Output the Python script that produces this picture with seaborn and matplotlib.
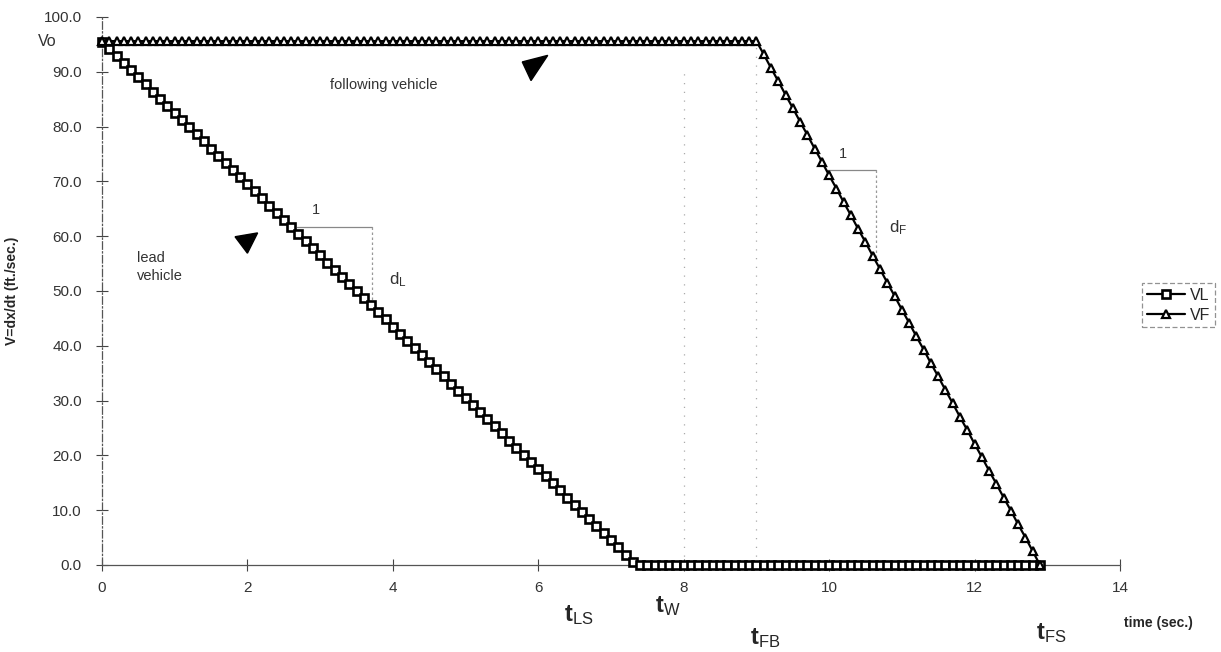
import matplotlib
matplotlib.use("Agg")
import matplotlib.pyplot as plt
from matplotlib.patches import Polygon
import seaborn as sns
import pandas as pd

# ---- data ----
time_s = [
    0.0, 0.1, 0.2, 0.3, 0.4, 0.5, 0.6, 0.7, 0.8, 0.9,
    1.0, 1.1, 1.2, 1.3, 1.4, 1.5, 1.6, 1.7, 1.8, 1.9,
    2.0, 2.1, 2.2, 2.3, 2.4, 2.5, 2.6, 2.7, 2.8, 2.9,
    3.0, 3.1, 3.2, 3.3, 3.4, 3.5, 3.6, 3.7, 3.8, 3.9,
    4.0, 4.1, 4.2, 4.3, 4.4, 4.5, 4.6, 4.7, 4.8, 4.9,
    5.0, 5.1, 5.2, 5.3, 5.4, 5.5, 5.6, 5.7, 5.8, 5.9,
    6.0, 6.1, 6.2, 6.3, 6.4, 6.5, 6.6, 6.7, 6.8, 6.9,
    7.0, 7.1, 7.2, 7.3, 7.4, 7.5, 7.6, 7.7, 7.8, 7.9,
    8.0, 8.1, 8.2, 8.3, 8.4, 8.5, 8.6, 8.7, 8.8, 8.9,
    9.0, 9.1, 9.2, 9.3, 9.4, 9.5, 9.6, 9.7, 9.8, 9.9,
    10.0, 10.1, 10.2, 10.3, 10.4, 10.5, 10.6, 10.7, 10.8, 10.9,
    11.0, 11.1, 11.2, 11.3, 11.4, 11.5, 11.6, 11.7, 11.8, 11.9,
    12.0, 12.1, 12.2, 12.3, 12.4, 12.5, 12.6, 12.7, 12.8, 12.9,
]

vl_speed = [
    95.5, 94.2, 92.9, 91.6, 90.3, 89.0, 87.7, 86.4, 85.1, 83.8,
    82.5, 81.2, 79.9, 78.6, 77.3, 76.0, 74.7, 73.4, 72.1, 70.8,
    69.5, 68.2, 66.9, 65.6, 64.3, 63.0, 61.7, 60.4, 59.1, 57.8,
    56.5, 55.2, 53.9, 52.6, 51.3, 50.0, 48.7, 47.4, 46.1, 44.8,
    43.5, 42.2, 40.9, 39.6, 38.3, 37.0, 35.7, 34.4, 33.1, 31.8,
    30.5, 29.2, 27.9, 26.6, 25.3, 24.0, 22.7, 21.4, 20.1, 18.8,
    17.5, 16.2, 14.9, 13.6, 12.3, 11.0, 9.7, 8.4, 7.1, 5.8,
    4.5, 3.2, 1.9, 0.6, 0.0, 0.0, 0.0, 0.0, 0.0, 0.0,
    0.0, 0.0, 0.0, 0.0, 0.0, 0.0, 0.0, 0.0, 0.0, 0.0,
    0.0, 0.0, 0.0, 0.0, 0.0, 0.0, 0.0, 0.0, 0.0, 0.0,
    0.0, 0.0, 0.0, 0.0, 0.0, 0.0, 0.0, 0.0, 0.0, 0.0,
    0.0, 0.0, 0.0, 0.0, 0.0, 0.0, 0.0, 0.0, 0.0, 0.0,
    0.0, 0.0, 0.0, 0.0, 0.0, 0.0, 0.0, 0.0, 0.0, 0.0,
]

vf_speed = [
    95.6, 95.6, 95.6, 95.6, 95.6, 95.6, 95.6, 95.6, 95.6, 95.6,
    95.6, 95.6, 95.6, 95.6, 95.6, 95.6, 95.6, 95.6, 95.6, 95.6,
    95.6, 95.6, 95.6, 95.6, 95.6, 95.6, 95.6, 95.6, 95.6, 95.6,
    95.6, 95.6, 95.6, 95.6, 95.6, 95.6, 95.6, 95.6, 95.6, 95.6,
    95.6, 95.6, 95.6, 95.6, 95.6, 95.6, 95.6, 95.6, 95.6, 95.6,
    95.6, 95.6, 95.6, 95.6, 95.6, 95.6, 95.6, 95.6, 95.6, 95.6,
    95.6, 95.6, 95.6, 95.6, 95.6, 95.6, 95.6, 95.6, 95.6, 95.6,
    95.6, 95.6, 95.6, 95.6, 95.6, 95.6, 95.6, 95.6, 95.6, 95.6,
    95.6, 95.6, 95.6, 95.6, 95.6, 95.6, 95.6, 95.6, 95.6, 95.6,
    95.6, 93.2, 90.7, 88.3, 85.8, 83.4, 80.9, 78.5, 76.0, 73.6,
    71.1, 68.7, 66.2, 63.8, 61.3, 58.9, 56.4, 54.0, 51.5, 49.1,
    46.6, 44.2, 41.7, 39.3, 36.8, 34.4, 31.9, 29.5, 27.0, 24.6,
    22.1, 19.7, 17.2, 14.8, 12.3, 9.9, 7.4, 5.0, 2.5, 0.0,
]

x_ticks = [0, 2, 4, 6, 8, 10, 12, 14]
y_ticks = [0, 10, 20, 30, 40, 50, 60, 70, 80, 90, 100]
event_times = [8.0, 9.0]  # t_W, t_FB guide lines

# ---- style ----
sns.set_style("white")
plt.rcParams["font.family"] = ["Liberation Sans", "DejaVu Sans"]
plt.rcParams["mathtext.fontset"] = "custom"
plt.rcParams["mathtext.rm"] = "Liberation Sans"
plt.rcParams["mathtext.bf"] = "Liberation Sans:bold"
plt.rcParams["mathtext.it"] = "Liberation Sans"

fig = plt.figure(figsize=(12.21, 6.52), dpi=100)
ax = fig.add_axes([102 / 1221, 87 / 652, 1018 / 1221, 548 / 652])

df = pd.DataFrame({"time": time_s, "VL": vl_speed, "VF": vf_speed})

sns.lineplot(data=df, x="time", y="VL", ax=ax, color="black", lw=1.6,
             marker="s", markersize=5.5, markerfacecolor="white",
             markeredgecolor="black", markeredgewidth=1.9, label="VL",
             clip_on=False, zorder=4)
sns.lineplot(data=df, x="time", y="VF", ax=ax, color="black", lw=1.6,
             marker="^", markersize=6, markerfacecolor="white",
             markeredgecolor="black", markeredgewidth=1.6, label="VF",
             clip_on=False, zorder=4)

ax.set_xlim(0, 14)
ax.set_ylim(0, 100)
ax.set_xticks(x_ticks)
ax.set_xticklabels([str(v) for v in x_ticks])
ax.set_yticks(y_ticks)
ax.set_yticklabels([f"{v:.1f}" for v in y_ticks])
ax.tick_params(axis="both", direction="inout", length=9, width=0.8,
               colors="#444444", labelsize=11, labelcolor="#333333",
               bottom=True, left=True)
ax.tick_params(axis="x", pad=7)
ax.tick_params(axis="y", pad=10)

for side in ["top", "right"]:
    ax.spines[side].set_visible(False)
ax.spines["left"].set_linestyle((0, (6, 2, 1, 2)))
ax.spines["left"].set_color("#555555")
ax.spines["left"].set_linewidth(0.9)
ax.spines["bottom"].set_color("#555555")
ax.spines["bottom"].set_linewidth(0.9)

# guide lines at t_W and t_FB
for t, top in zip(event_times, [0.9, 0.95]):
    ax.axvline(t, ymin=0, ymax=top, color="#aaaaaa", lw=0.9,
               linestyle=(0, (1, 6)), zorder=1)

ax.set_xlabel("")
ax.set_ylabel("V=dx/dt (ft./sec.)", fontsize=10, fontweight="bold")
ax.yaxis.set_label_coords(-0.082, 0.5)

# Vo label
ax.text(-0.62, 95.5, "Vo", ha="right", va="center", fontsize=11.5,
        color="#333333", clip_on=False)

# slope triangles
ax.plot([2.68, 3.72], [61.7, 61.7], color="#888888", lw=0.9)
ax.plot([3.72, 3.72], [61.7, 48.0], color="#999999", lw=0.9,
        linestyle=(0, (2, 2)))
ax.text(2.94, 63.5, "1", fontsize=10.5, ha="center", va="bottom", color="#333333")
ax.text(3.95, 52.0, r"d$_{L}$", fontsize=12, ha="left", va="center", color="#333333")

ax.plot([9.97, 10.65], [72.1, 72.1], color="#888888", lw=0.9)
ax.plot([10.65, 10.65], [72.1, 55.5], color="#999999", lw=0.9,
        linestyle=(0, (2, 2)))
ax.text(10.19, 73.8, "1", fontsize=10.5, ha="center", va="bottom", color="#333333")
ax.text(10.82, 61.5, r"d$_{F}$", fontsize=12, ha="left", va="center", color="#333333")

# arrowheads and labels
ax.add_patch(Polygon([[1.83, 59.9], [2.14, 60.6], [2.0, 56.9]],
                     closed=True, color="black", zorder=5))
ax.add_patch(Polygon([[5.78, 91.8], [6.13, 93.0], [5.90, 88.4]],
                     closed=True, color="black", zorder=5))
ax.text(3.13, 87.6, "following vehicle", fontsize=10.5, ha="left",
        va="center", color="#333333")
ax.text(0.48, 54.4, "lead\nvehicle", fontsize=10.5, ha="left",
        va="center", color="#333333", linespacing=1.3)

# event labels under axis
ax.text(6.55, -9.2, r"$\mathbf{t}_{\mathrm{LS}}$", fontsize=17, ha="center",
        va="center", clip_on=False)
ax.text(7.78, -7.4, r"$\mathbf{t}_{\mathrm{W}}$", fontsize=17, ha="center",
        va="center", clip_on=False)
ax.text(9.12, -13.4, r"$\mathbf{t}_{\mathrm{FB}}$", fontsize=17, ha="center",
        va="center", clip_on=False)
ax.text(13.05, -12.5, r"$\mathbf{t}_{\mathrm{FS}}$", fontsize=17, ha="center",
        va="center", clip_on=False)
ax.text(14.53, -10.6, "time (sec.)", fontsize=10, fontweight="bold",
        ha="center", va="center", clip_on=False)

# legend
leg = ax.legend(loc="upper left", bbox_to_anchor=(1142 / 1221, 1 - 283 / 652),
                bbox_transform=fig.transFigure, frameon=True, fancybox=False,
                fontsize=11.5, handlelength=2.4, handletextpad=0.3,
                borderpad=0.3, labelspacing=0.3, borderaxespad=0)
leg.get_frame().set_edgecolor("#777777")
leg.get_frame().set_linewidth(0.9)
leg.get_frame().set_linestyle((0, (4, 2)))
for h in leg.legend_handles:
    h.set_markersize(5.5)

fig.savefig("out.png", dpi=100)
